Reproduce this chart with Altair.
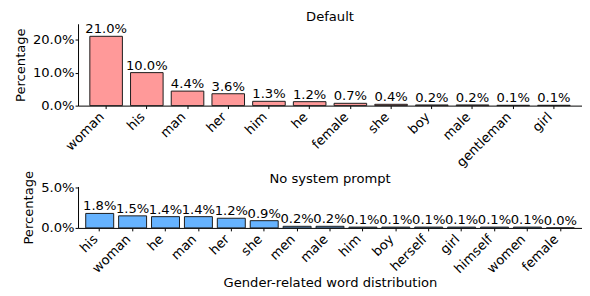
import altair as alt
import pandas as pd

FONT = "DejaVu Sans"
FS = 13.3

top_words = ["woman", "his", "man", "her", "him", "he", "female", "she", "boy", "male", "gentleman", "girl"]
top_values = [21.0, 10.0, 4.4, 3.6, 1.3, 1.2, 0.7, 0.4, 0.2, 0.2, 0.1, 0.1]

bottom_words = ["his", "woman", "he", "man", "her", "she", "men", "male", "him", "boy",
                "herself", "girl", "himself", "women", "female"]
bottom_values = [1.8, 1.5, 1.4, 1.4, 1.2, 0.9, 0.2, 0.2, 0.1, 0.1, 0.1, 0.1, 0.1, 0.1, 0.0]

top_title = "Default"
bottom_title = "No system prompt"
y_title = "Percentage"
x_title = "Gender-related word distribution"

top_color = "#ff9999"
bottom_color = "#66b3ff"


def panel(words, values, color, title, ymax, yticks, height, pin, pout,
          xtitle=None, t_offset=0, t_dy=0):
    df = pd.DataFrame({"word": words, "pct": values,
                       "label": [f"{v:.1f}%" for v in values]})
    x_axis = alt.Axis(labelAngle=-45, labelAlign="right", labelBaseline="top",
                      labelOffset=-9, title=xtitle, titlePadding=1)
    x = alt.X("word:N", sort=words,
              scale=alt.Scale(paddingInner=pin, paddingOuter=pout),
              axis=x_axis)
    y = alt.Y("pct:Q", scale=alt.Scale(domain=[0, ymax], nice=False, zero=True),
              axis=alt.Axis(values=yticks, grid=False, title=y_title, titlePadding=5,
                            labelExpr="format(datum.value, '.1f') + '%'"))
    bars = alt.Chart(df).mark_bar(color=color, stroke="#1a1a1a", strokeWidth=1).encode(x=x, y=y)
    text = alt.Chart(df).mark_text(baseline="alphabetic", dy=-3, font=FONT,
                                   fontSize=FS, color="black").encode(
        x=alt.X("word:N", sort=words), y=alt.Y("pct:Q"), text="label:N",
        size=alt.value(FS))
    return alt.layer(bars, text).properties(
        width=511, height=height,
        title=alt.TitleParams(title, anchor="middle", fontSize=FS, font=FONT,
                              fontWeight="normal", color="black",
                              offset=t_offset, dy=t_dy))


top = panel(top_words, top_values, top_color, top_title, 24.8, [0, 10, 20], 83, 0.2, 0.29,
            t_offset=-1)
bottom = panel(bottom_words, bottom_values, bottom_color, bottom_title, 5.15, [0, 5], 42,
               0.15, 0.234, xtitle=x_title, t_offset=0, t_dy=15)

chart = alt.vconcat(top, bottom, spacing=0).properties(
    padding={"left": 5, "top": 0, "right": 0, "bottom": 0}
).configure_view(
    stroke=None
).configure_axis(
    labelFont=FONT, titleFont=FONT, labelFontSize=FS, titleFontSize=FS,
    labelColor="black", titleColor="black", titleFontWeight="normal",
    domainColor="black", tickColor="black", tickSize=3, labelPadding=1,
    domainWidth=1
)

chart.save("out.html", embed_options={"renderer": "svg", "actions": False})
